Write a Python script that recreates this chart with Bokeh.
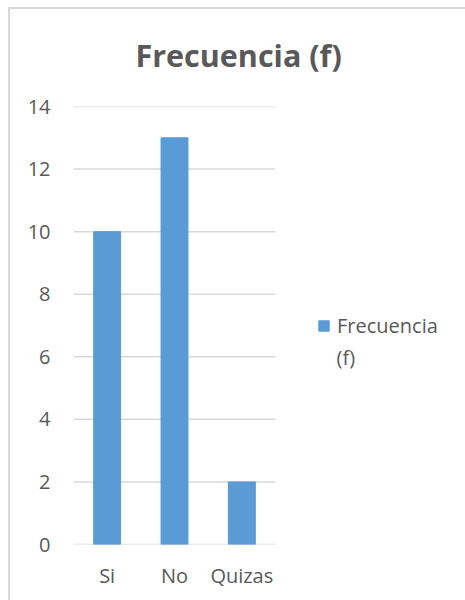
from bokeh.plotting import figure
from bokeh.models import Legend, LegendItem, FixedTicker, Range1d, Label
from bokeh.embed import file_html
from bokeh.resources import INLINE

categories = ["Si", "No", "Quizas"]
frecuencia = [10, 13, 2]
y_ticks = [0, 2, 4, 6, 8, 10, 12, 14]
series_name = "Frecuencia (f)"
title_text = "Frecuencia (f)"

TEXT = "#595959"
GRID = "#d9d9d9"
BAR = "#5b9bd5"
FONT = "Open Sans"

# layout: plot area 73..275 px for the categories; frame extends to the right edge
FRAME_LEFT, CAT_RIGHT, WIDTH = 73, 275, 465
n = len(categories)
x_pos = [i + 0.5 for i in range(n)]
x_end = n * (WIDTH - FRAME_LEFT) / (CAT_RIGHT - FRAME_LEFT)

p = figure(width=WIDTH, height=600, x_range=Range1d(0, x_end), y_range=Range1d(0, 14),
           output_backend="svg", toolbar_location=None,
           min_border_left=FRAME_LEFT, min_border_right=0,
           min_border_top=106, min_border_bottom=56,
           title=title_text)
p.outline_line_color = None
p.background_fill_color = "white"
p.border_fill_color = None
p.styles = {
    "background": "linear-gradient(#d9d9d9, #d9d9d9) 8px 7px / 2px 600px no-repeat, "
                  "linear-gradient(#d9d9d9, #d9d9d9) 8px 7px / 460px 2px no-repeat, white"
}

p.title.align = "left"
p.title.offset = 62
p.title.standoff = 61
p.title.text_font = FONT
p.title.text_font_style = "bold"
p.title.text_font_size = "30.5px"
p.title.text_color = TEXT

p.xgrid.grid_line_color = None
p.ygrid.grid_line_color = None
p.segment(x0=[0] * len(y_ticks), x1=[n] * len(y_ticks), y0=y_ticks, y1=y_ticks,
          line_color=GRID, line_width=1.5)

r = p.vbar(x=x_pos, top=frecuencia, width=0.4, color=BAR)

p.yaxis.ticker = FixedTicker(ticks=y_ticks)
p.xaxis.ticker = FixedTicker(ticks=x_pos)
p.xaxis.major_label_overrides = {x: c for x, c in zip(x_pos, categories)}
for ax in (p.xaxis, p.yaxis):
    ax.axis_line_color = None
    ax.major_tick_line_color = None
    ax.minor_tick_line_color = None
    ax.major_label_text_color = TEXT
    ax.major_label_text_font = FONT
    ax.major_label_text_font_size = "20px"
p.yaxis.major_label_standoff = 17
p.xaxis.major_label_standoff = 11

name_first, name_second = series_name.split(" ", 1)
legend = Legend(items=[LegendItem(label=name_first, renderers=[r])],
                location=(244, 205), padding=0, margin=0, glyph_width=13, glyph_height=13,
                label_standoff=7, border_line_color=None, background_fill_alpha=0,
                label_text_font=FONT, label_text_font_size="20px", label_text_color=TEXT)
p.add_layout(legend, "center")
p.add_layout(Label(x=263, y=187, x_units="screen", y_units="screen", text=name_second,
                   text_align="left", text_baseline="middle", text_font=FONT,
                   text_font_size="20px", text_color=TEXT))

open("out.html", "w").write(file_html(p, INLINE))
